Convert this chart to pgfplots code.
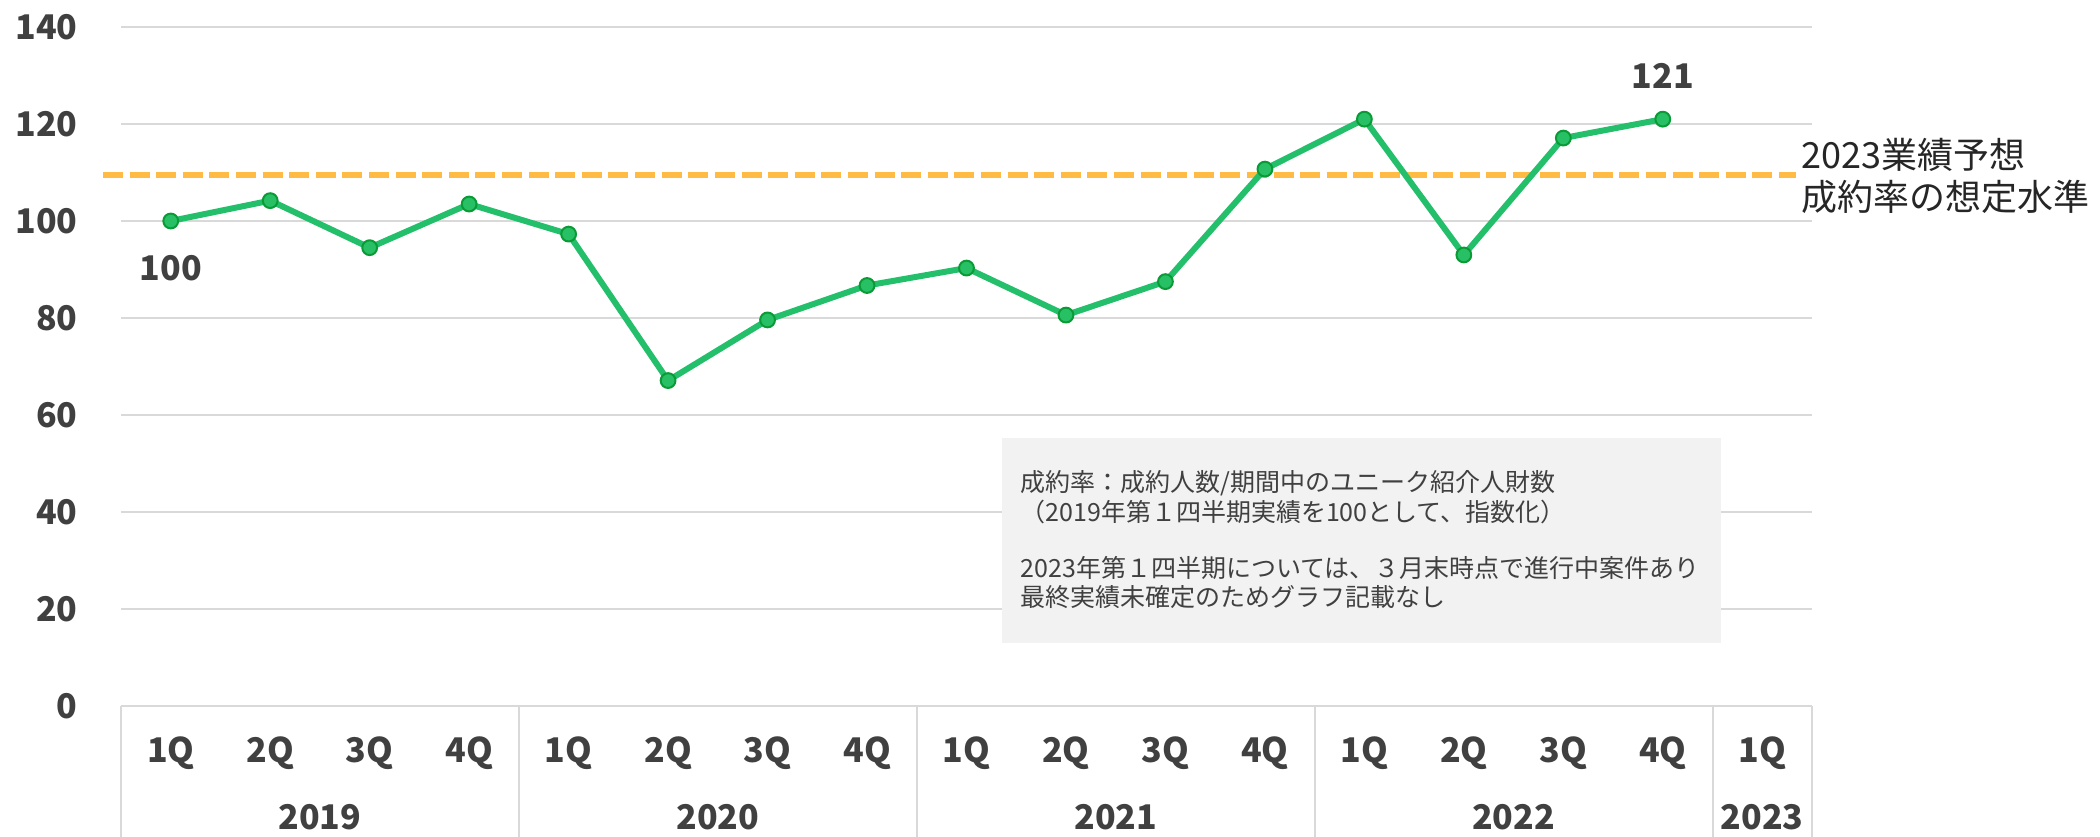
\documentclass[border=0pt]{standalone}
\usepackage{fontspec}
\setmainfont{Noto Sans CJK JP}
\usepackage{pgfplots}
\pgfplotsset{compat=1.18}
\definecolor{lineg}{RGB}{35,191,106}
\definecolor{markf}{RGB}{40,192,100}
\definecolor{marke}{RGB}{10,155,55}
\definecolor{dashc}{RGB}{255,187,68}
\definecolor{gridc}{RGB}{217,217,217}
\definecolor{txt}{RGB}{64,64,64}
\definecolor{txtb}{RGB}{38,38,38}
\definecolor{boxc}{RGB}{242,242,242}
\newcommand{\lblfont}{\fontsize{17}{20}\selectfont\bfseries}
\begin{document}
\begin{tikzpicture}
\begin{axis}[
  at={(60.5pt,65pt)}, anchor=south west,
  scale only axis, width=845.5pt, height=339.5pt,
  xmin=-0.5, xmax=16.5, ymin=0, ymax=140,
  clip=false,
  axis line style={draw=none},
  tick style={draw=none},
  ymajorgrids, grid style={gridc, line width=1pt},
  ytick={0,20,40,60,80,100,120,140},
  yticklabels={0,20,40,60,80,100,120,140},
  yticklabel style={font=\lblfont, text=txt, anchor=east, inner sep=0pt, xshift=-21.5pt},
  xtick={0,...,16},
  xticklabels={1Q,2Q,3Q,4Q,1Q,2Q,3Q,4Q,1Q,2Q,3Q,4Q,1Q,2Q,3Q,4Q,1Q},
  xticklabel style={font=\lblfont, text=txt, anchor=center, inner sep=0pt, yshift=-23.5pt},
]
% note box
\fill[boxc] (axis cs:8.36,13.0) rectangle (axis cs:15.59,55.3);
\node[anchor=west, inner sep=0pt, font=\fontsize{12.5}{15}\selectfont, text=txt] at (axis cs:8.54,46.0) {成約率：成約人数/期間中のユニーク紹介人財数};
\node[anchor=west, inner sep=0pt, font=\fontsize{12.5}{15}\selectfont, text=txt] at (axis cs:8.54,40.0) {（2019年第１四半期実績を100として、指数化）};
\node[anchor=west, inner sep=0pt, font=\fontsize{12.5}{15}\selectfont, text=txt] at (axis cs:8.54,28.4) {2023年第１四半期については、３月末時点で進行中案件あり};
\node[anchor=west, inner sep=0pt, font=\fontsize{12.5}{15}\selectfont, text=txt] at (axis cs:8.54,22.5) {最終実績未確定のためグラフ記載なし};
% target level
\addplot[dashc, line width=3pt, dash pattern=on 10pt off 3.3pt] coordinates {(-0.68,109.5) (16.34,109.5)};
% main series
\addplot[lineg, line width=3pt, line join=round, mark=*, mark size=3.7pt,
  mark options={fill=markf, draw=marke, line width=1pt}] coordinates {
 (0,100) (1,104.2) (2,94.5) (3,103.5)
 (4,97.3) (5,67.1) (6,79.6) (7,86.7)
 (8,90.3) (9,80.6) (10,87.5) (11,110.7)
 (12,121) (13,93.0) (14,117.1) (15,121)
};
% data labels
\node[font=\lblfont, text=txt] at ([yshift=-23.5pt]axis cs:0,100) {100};
\node[font=\lblfont, text=txt] at ([yshift=21.5pt]axis cs:15,121) {121};
% annotation
\node[anchor=west, align=left, inner sep=0pt, font=\fontsize{18}{21}\selectfont, text=txtb] at (axis cs:16.39,109.3) {2023業績予想\\成約率の想定水準};
% category table lines
\pgfplotsinvokeforeach{-0.5,3.5,7.5,11.5,15.5,16.5}{
  \draw[gridc, line width=1pt] (axis cs:#1,0) -- ++(0pt,-66pt);
}
% year labels
\node[font=\lblfont, text=txt] at ([yshift=-55.5pt]axis cs:1.5,0) {2019};
\node[font=\lblfont, text=txt] at ([yshift=-55.5pt]axis cs:5.5,0) {2020};
\node[font=\lblfont, text=txt] at ([yshift=-55.5pt]axis cs:9.5,0) {2021};
\node[font=\lblfont, text=txt] at ([yshift=-55.5pt]axis cs:13.5,0) {2022};
\node[font=\lblfont, text=txt] at ([yshift=-55.5pt]axis cs:16,0) {2023};
\end{axis}
\pgfresetboundingbox
\path (0,0) rectangle (1050pt,418pt);
\end{tikzpicture}
\end{document}
